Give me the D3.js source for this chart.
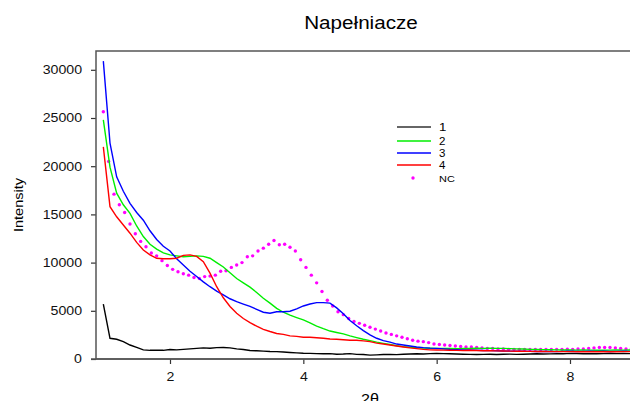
<!DOCTYPE html>
<html>
<head>
<meta charset="utf-8">
<script src="https://cdn.jsdelivr.net/npm/d3@7"></script>
<style>
  body { margin: 0; background: #fff; }
  svg { display: block; font-family: Arial, "Liberation Sans", sans-serif; }
</style>
</head>
<body>
<div id="chart"></div>
<script>
// samples of the lines, 2theta from 1.0 step 0.1
var lineStart = 1.0, lineStep = 0.1
var s1 = [5700,2150,2050,1800,1450,1200,950,900,920,900,
  980,950,1000,1050,1100,1150,1120,1180,1200,1150,
  1050,980,880,850,820,780,760,720,680,640,
  600,580,560,540,560,500,520,560,480,470,
  400,430,460,480,450,500,520,540,520,560,
  580,560,540,520,500,480,460,480,500,470,
  490,510,480,500,520,540,520,530,560,540,
  580,560,540,560,550,560,570,560,580,560]
var s2 = [24800,19900,17200,16000,15100,13800,12700,11900,11400,11000,
  10800,10700,10600,10650,10700,10650,10450,10000,9550,8950,
  8350,7900,7450,6900,6300,5800,5250,4850,4550,4300,
  4050,3750,3420,3150,2900,2750,2600,2400,2220,2050,
  1900,1750,1620,1500,1380,1280,1220,1170,1130,1110,
  1100,1090,1100,1080,1090,1100,1110,1100,1120,1100,
  1100,1080,1050,1030,1000,990,970,960,950,940,
  930,920,930,920,910,900,920,930,920,930]
var s3 = [30900,22400,18900,17400,16150,15200,14400,13300,12400,11700,
  11200,10400,9750,9100,8550,8000,7500,7050,6650,6250,
  5950,5700,5450,5150,4850,4750,4900,4900,4950,5200,
  5500,5700,5850,5850,5800,5300,4700,4000,3450,2950,
  2500,2150,1900,1750,1550,1450,1350,1250,1180,1130,
  1100,1050,1000,970,950,930,900,880,870,850,
  830,820,800,800,790,780,790,780,770,790,
  800,780,790,800,790,800,780,790,800,790]
var s4 = [22000,15800,14750,13900,13050,12100,11300,10800,10450,10400,
  10400,10450,10750,10800,10650,10100,8900,7500,6350,5450,
  4750,4200,3770,3400,3080,2850,2650,2550,2400,2350,
  2250,2250,2200,2150,2080,2050,2000,1950,1950,1880,
  1800,1650,1550,1450,1350,1250,1150,1080,1000,950,
  930,920,900,890,880,900,880,860,850,840,
  830,820,810,800,790,780,780,770,770,760,
  760,750,760,750,760,750,760,750,760,760]

// NC dots, 2theta from 1.0 step 0.08
var ncStart = 1.0, ncStep = 0.08
var nc = [25650,20500,17100,16000,15200,14000,13000,12200,11650,11000,
  10700,10200,9700,9300,9050,8850,8700,8450,8350,8550,
  8600,8700,9100,9150,9500,9750,10000,10600,10700,11200,
  11500,11900,12300,11850,11900,11600,11200,10300,9500,8700,
  7900,7000,6100,5500,4900,4600,4200,3900,3700,3500,
  3300,3100,2900,2700,2550,2400,2250,2100,1950,1850,
  1800,1700,1550,1500,1450,1400,1350,1300,1250,1250,
  1200,1150,1100,1100,1050,1050,1000,1000,1000,1000,
  980,1000,980,1000,980,1000,1000,1020,1000,1050,
  1050,1100,1150,1200,1200,1200,1150,1100,1050,1050]

var seriesNames = ['1', '2', '3', '4']
var seriesColors = ['#000000', '#00ee00', '#0000ff', '#ff0000']
var ncColor = '#ff00ff'
var xTicks = [2, 4, 6, 8]
var yTicks = [0, 5000, 10000, 15000, 20000, 25000, 30000]

var W = 630, H = 401
var plotLeft = 96, plotTop = 51, plotBottom = 359, plotRight = 670

var x = d3.scaleLinear().domain([0.89, 9.5]).range([plotLeft, plotRight])
var y = d3.scaleLinear().domain([0, 31950]).range([plotBottom, plotTop])

var svg = d3.select('#chart').append('svg')
  .attr('width', W).attr('height', H)

// the original font is a bit wider than Arial
function widen(sel, k) {
  sel.each(function() {
    var w = this.getComputedTextLength()
    d3.select(this).attr('textLength', w * k).attr('lengthAdjust', 'spacingAndGlyphs')
  })
}

svg.append('defs').append('clipPath').attr('id', 'clip')
  .append('rect')
  .attr('x', plotLeft).attr('y', plotTop)
  .attr('width', plotRight - plotLeft).attr('height', plotBottom - plotTop)

// title
svg.append('text')
  .attr('x', 361).attr('y', 29)
  .attr('text-anchor', 'middle')
  .style('font-size', '17.5px')
  .text('Napełniacze')
  .call(widen, 1.18)

// axes
var yAxis = svg.append('g')
  .attr('transform', 'translate(' + plotLeft + ',0)')
  .call(d3.axisLeft(y).tickValues(yTicks).tickSize(5).tickPadding(9).tickFormat(d3.format('d')))
yAxis.select('.domain').remove()

var xAxis = svg.append('g')
  .attr('transform', 'translate(0,' + plotBottom + ')')
  .call(d3.axisBottom(x).tickValues(xTicks).tickSize(5).tickPadding(8).tickFormat(d3.format('d')))
xAxis.select('.domain').remove()

svg.selectAll('.tick line').attr('stroke', '#333').attr('stroke-width', 1.2)
svg.selectAll('.tick text')
  .style('font-size', '12px')
  .style('font-family', 'Arial, "Liberation Sans", sans-serif')
  .attr('fill', '#111')
  .call(widen, 1.18)

// frame
svg.append('rect')
  .attr('x', plotLeft).attr('y', plotTop)
  .attr('width', plotRight - plotLeft).attr('height', plotBottom - plotTop)
  .attr('fill', 'none')
  .attr('stroke', '#555')
  .attr('stroke-width', 1.5)

svg.append('line')
  .attr('x1', plotLeft - 5).attr('x2', plotRight)
  .attr('y1', plotBottom).attr('y2', plotBottom)
  .attr('stroke', '#555').attr('stroke-width', 1.5)

// axis titles
svg.append('text')
  .attr('transform', 'translate(23,205) rotate(-90)')
  .attr('text-anchor', 'middle')
  .style('font-size', '13px')
  .text('Intensity')
  .call(widen, 1.12)

svg.append('text')
  .attr('x', 370).attr('y', 404)
  .attr('text-anchor', 'middle')
  .style('font-size', '14px')
  .text('2θ')
  .call(widen, 1.15)

// data
var plot = svg.append('g').attr('clip-path', 'url(#clip)')

var line = d3.line()
  .x(function(d, i) { return x(lineStart + i * lineStep) })
  .y(function(d) { return y(d) })

// NC drawn first, lines over it
plot.selectAll('.nc').data(nc).enter().append('circle')
  .attr('class', 'nc')
  .attr('cx', function(d, i) { return x(ncStart + i * ncStep) })
  .attr('cy', function(d) { return y(d) })
  .attr('r', 1.7)
  .attr('fill', ncColor)

var allSeries = [s1, s2, s3, s4]
plot.selectAll('.series').data(allSeries).enter().append('path')
  .attr('class', 'series')
  .attr('d', line)
  .attr('fill', 'none')
  .attr('stroke', function(d, i) { return seriesColors[i] })
  .attr('stroke-width', 1.4)

// legend
var leg = svg.append('g')
var rows = [127, 141, 153, 165]
seriesNames.forEach(function(name, i) {
  leg.append('line')
    .attr('x1', 397).attr('x2', 431)
    .attr('y1', rows[i]).attr('y2', rows[i])
    .attr('stroke', i === 0 ? '#333' : seriesColors[i])
    .attr('stroke-width', 1.4)
  leg.append('text')
    .attr('x', 439).attr('y', rows[i] + (i === 0 ? 4 : 3.5))
    .style('font-size', i === 0 ? '11.5px' : '10px')
    .text(name)
    .call(widen, 1.15)
})
leg.append('circle')
  .attr('cx', 413).attr('cy', 178)
  .attr('r', 1.7)
  .attr('fill', ncColor)
leg.append('text')
  .attr('x', 439).attr('y', 181.5)
  .style('font-size', '9.5px')
  .text('NC')
  .call(widen, 1.15)
</script>
</body>
</html>
